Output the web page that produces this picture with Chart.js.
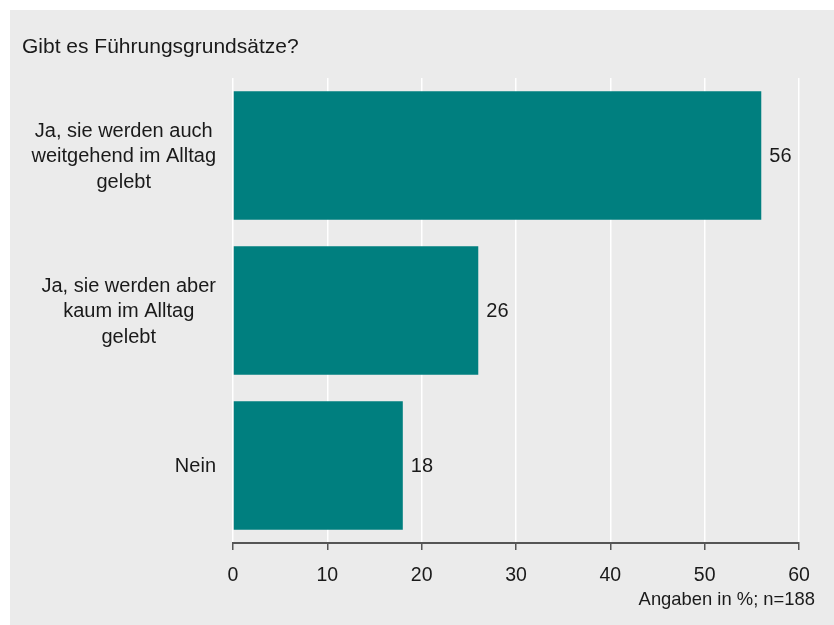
<!DOCTYPE html>
<html>
<head>
<meta charset="utf-8">
<script src="https://cdn.jsdelivr.net/npm/chart.js@4.4.1/dist/chart.umd.min.js"></script>
<style>
  html, body { margin: 0; padding: 0; background: #ffffff; }
</style>
</head>
<body>
<canvas id="fg" width="834" height="625"></canvas>
<script>
var categories = [
  ["Ja, sie werden auch", "weitgehend im Alltag", "gelebt"],
  ["Ja, sie werden aber", "kaum im Alltag", "gelebt"],
  ["Nein"]
];
var shares = [56, 26, 18];
var xTicks = [0, 10, 20, 30, 40, 50, 60];

var title = "Gibt es Führungsgrundsätze?";
var note = "Angaben in %; n=188";
var teal = "#007f7f";
var ink = "#1a1a1a";
var fontFamily = "'Liberation Sans', Arial, Helvetica, sans-serif";

// grey panel, title, footnote, category and value labels
var decor = {
  id: 'decor',
  beforeDraw: function(chart) {
    var c = chart.ctx;
    c.save();
    c.fillStyle = '#ffffff';
    c.fillRect(0, 0, chart.width, chart.height);
    c.fillStyle = '#ebebeb';
    c.fillRect(10, 10, chart.width - 10, chart.height - 10);
    c.restore();
  },
  afterDatasetsDraw: function(chart) {
    var c = chart.ctx;
    var yScale = chart.scales.y;
    c.save();
    c.fillStyle = ink;

    c.font = '21px ' + fontFamily;
    c.textBaseline = 'alphabetic';
    c.textAlign = 'left';
    c.fillText(title, 22, 53);

    // category labels: block right-aligned, lines centred inside the block
    c.font = '20px ' + fontFamily;
    c.textBaseline = 'middle';
    c.textAlign = 'center';
    var lineH = 25.5;
    var right = yScale.right - 17;
    categories.forEach(function(lines, i) {
      var widest = 0;
      lines.forEach(function(l) { widest = Math.max(widest, c.measureText(l).width); });
      var cx = right - widest / 2;
      var cy = yScale.getPixelForValue(i);
      var top = cy - (lines.length - 1) * lineH / 2;
      lines.forEach(function(l, k) { c.fillText(l, cx, top + k * lineH + 1); });
    });

    c.font = '20px ' + fontFamily;
    c.textAlign = 'left';
    var meta = chart.getDatasetMeta(0);
    meta.data.forEach(function(bar, i) {
      c.fillText(String(shares[i]), bar.x + 8, bar.y + 1);
    });

    c.font = '18.4px ' + fontFamily;
    c.textAlign = 'right';
    c.textBaseline = 'alphabetic';
    c.fillText(note, 815, 605);
    c.restore();
  }
};

new Chart(document.getElementById('fg').getContext('2d'), {
  type: 'bar',
  data: {
    labels: categories,
    datasets: [{
      data: shares,
      backgroundColor: teal,
      borderWidth: 0,
      categoryPercentage: 0.83,
      barPercentage: 1.0
    }]
  },
  options: {
    indexAxis: 'y',
    responsive: false,
    animation: false,
    devicePixelRatio: 1,
    layout: { padding: { top: 78, right: 35, left: 0, bottom: 0 } },
    plugins: {
      legend: { display: false },
      tooltip: { enabled: false }
    },
    scales: {
      x: {
        min: 0,
        max: 60,
        afterBuildTicks: function(axis) {
          axis.ticks = xTicks.map(function(v) { return { value: v }; });
        },
        afterFit: function(axis) { axis.height = 82; },
        grid: {
          color: '#ffffff',
          lineWidth: 1.5,
          tickColor: '#555555',
          tickWidth: 1.5,
          tickLength: 7
        },
        border: { display: true, color: '#555555', width: 2 },
        ticks: {
          color: ink,
          padding: 14,
          font: { family: fontFamily, size: 19.5 }
        }
      },
      y: {
        afterFit: function(axis) { axis.width = 233; },
        grid: { display: false },
        border: { display: false },
        ticks: { display: false }
      }
    }
  },
  plugins: [decor]
});
</script>
</body>
</html>
